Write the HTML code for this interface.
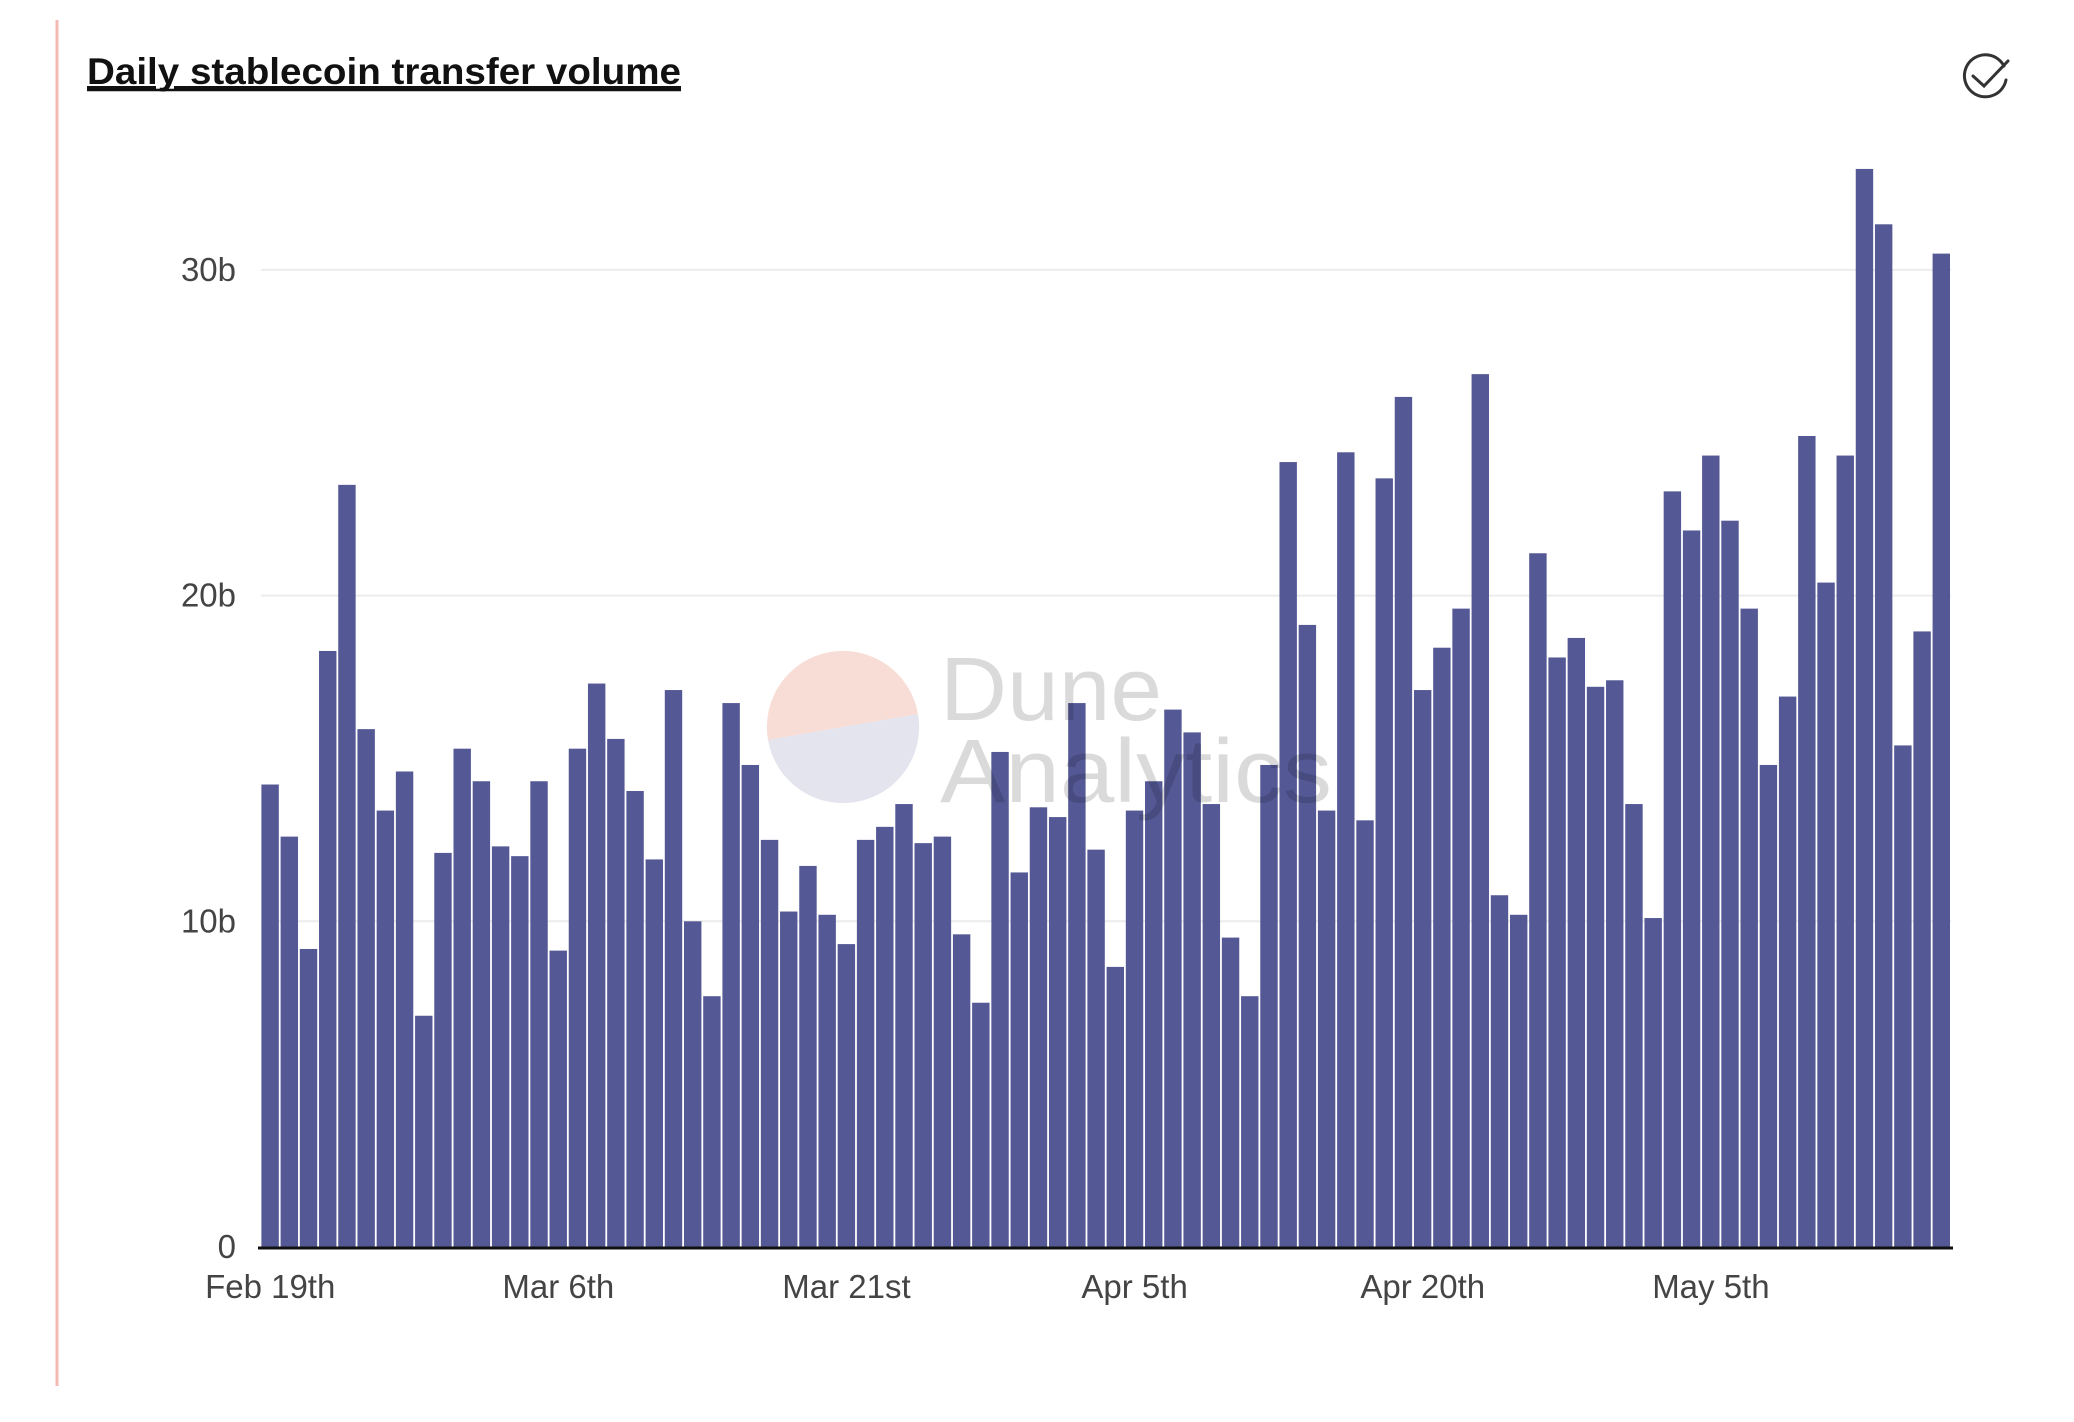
<!DOCTYPE html>
<html><head><meta charset="utf-8"><style>
html,body{margin:0;padding:0;background:#fff;}
svg{display:block;font-family:"Liberation Sans",sans-serif;}
</style></head><body>
<svg id="chart" width="2074" height="1422" viewBox="0 0 2074 1422" xmlns="http://www.w3.org/2000/svg">
<line x1="57" y1="20" x2="57" y2="1386" stroke="#f4b9b2" stroke-width="3"/>
<text x="87" y="84" font-size="37" font-weight="bold" fill="#111" textLength="594" lengthAdjust="spacingAndGlyphs" text-decoration="underline">Daily stablecoin transfer volume</text>
<line x1="87" y1="90" x2="681" y2="90" stroke="#111" stroke-width="2.5"/>
<g fill="none" stroke="#333" stroke-width="3" stroke-linecap="round">
<path d="M2004 66 A21 21 0 1 0 2006 80"/>
<path d="M1973 76 L1984 86 L2008 61"/>
</g>
<g id="grid"></g>
<g id="bars"></g>
<g id="axes"></g>
<g opacity="0.9">
<path d="M768 740 A75 75 0 0 1 918 714 Z" fill="#f6d6cd" opacity="0.9"/>
<path d="M768 740 L918 714 A75 75 0 0 1 768 740 Z" fill="#d9d9e9" opacity="0.8"/>
<text x="940" y="720" font-size="90" fill="rgba(0,0,0,0.16)" textLength="222" lengthAdjust="spacingAndGlyphs">Dune</text>
<text x="940" y="802" font-size="90" fill="rgba(0,0,0,0.16)" textLength="392" lengthAdjust="spacingAndGlyphs">Analytics</text>
</g>
</svg>
<script>
const values = [14.2,12.6,9.15,18.3,23.4,15.9,13.4,14.6,7.1,12.1,15.3,14.3,12.3,12.0,14.3,9.1,15.3,17.3,15.6,14.0,11.9,17.1,10.0,7.7,16.7,14.8,12.5,10.3,11.7,10.2,9.3,12.5,12.9,13.6,12.4,12.6,9.6,7.5,15.2,11.5,13.5,13.2,16.7,12.2,8.6,13.4,14.3,16.5,15.8,13.6,9.5,7.7,14.8,24.1,19.1,13.4,24.4,13.1,23.6,26.1,17.1,18.4,19.6,26.8,10.8,10.2,21.3,18.1,18.7,17.2,17.4,13.6,10.1,23.2,22.0,24.3,22.3,19.6,14.8,16.9,24.9,20.4,24.3,33.1,31.4,15.4,18.9,30.5];
const yTicks = [0,10,20,30];
const yTickLabels = ["0","10b","20b","30b"];
const xTickIndex = [0,15,30,45,60,75];
const xTickLabels = ["Feb 19th","Mar 6th","Mar 21st","Apr 5th","Apr 20th","May 5th"];

const NS="http://www.w3.org/2000/svg";
const x0=260.6, x1=1951, y0=1247, pxPerUnit=32.57;
const step=(x1-x0)/values.length;
function xScale(i){return x0+i*step;}
function yScale(v){return y0-v*pxPerUnit;}
function mk(tag,attrs,parent){const e=document.createElementNS(NS,tag);for(const k in attrs)e.setAttribute(k,attrs[k]);parent.appendChild(e);return e;}
const grid=document.getElementById('grid'), bars=document.getElementById('bars'), axes=document.getElementById('axes');
yTicks.forEach((t,i)=>{
  if(t>0){
    const g=mk('line',{x1:261,x2:1951,y1:yScale(t),y2:yScale(t),stroke:'#ececec','stroke-width':2},grid);
    
    
  }
  const l=mk('text',{x:236,y:yScale(t)+11,'text-anchor':'end','font-size':33,fill:'#444'},axes);
  l.textContent=yTickLabels[i];
  
  
});
values.forEach((v,i)=>{
  const r=mk('rect',{x:xScale(i)+0.8,y:yScale(v),width:step-1.8,height:y0-yScale(v),fill:'#545895'},bars);
  
  
});
const base=mk('line',{x1:258,x2:1953,y1:y0+1,y2:y0+1,stroke:'#111','stroke-width':3},axes);


xTickIndex.forEach((idx,i)=>{
  const t=mk('text',{x:xScale(idx)+step/2,y:1298,'text-anchor':'middle','font-size':33,fill:'#444'},axes);
  t.textContent=xTickLabels[i];
  
  
});
</script>
</body></html>
